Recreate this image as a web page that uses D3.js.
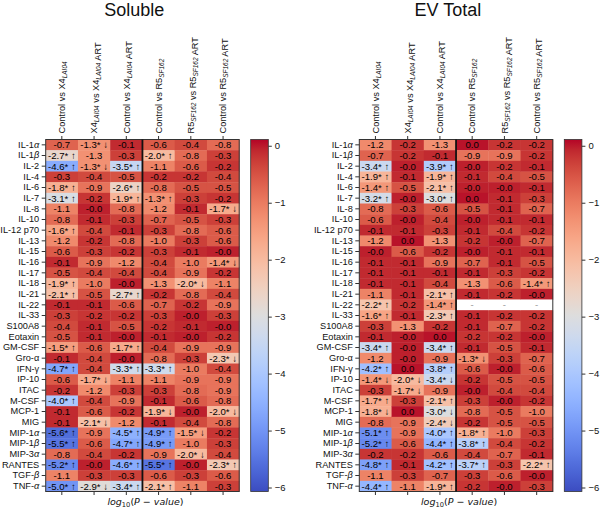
<!DOCTYPE html>
<html>
<head>
<meta charset="utf-8">
<script src="https://cdn.jsdelivr.net/npm/d3@7"></script>
<style>
  body { margin: 0; background: #fff; }
  svg { display: block; font-family: "Liberation Sans", Arial, sans-serif; }
</style>
</head>
<body>
<svg id="chart" width="600" height="508"></svg>
<script>
// rows / columns
const rows = ['IL-1α', 'IL-1β', 'IL-2', 'IL-4', 'IL-6', 'IL-7', 'IL-8', 'IL-10', 'IL-12 p70', 'IL-13',
  'IL-15', 'IL-16', 'IL-17', 'IL-18', 'IL-21', 'IL-22', 'IL-33', 'S100A8', 'Eotaxin', 'GM-CSF',
  'Gro-α', 'IFN-γ', 'IP-10', 'ITAC', 'M-CSF', 'MCP-1', 'MIG', 'MIP-1α', 'MIP-1β', 'MIP-3α',
  'RANTES', 'TGF-β', 'TNF-α'];
const uprightGreek = ['Gro-α', 'IFN-γ'];
const comparisons = ['Control vs X4{LAI04}', 'X4{LAI04} vs X4{LAI04} ART', 'Control vs X4{LAI04} ART',
  'Control vs R5{SF162}', 'R5{SF162} vs R5{SF162} ART', 'Control vs R5{SF162} ART'];
const colorbarTicks = [0, -1, -2, -3, -4, -5, -6];

// log10(p) values, one array per comparison (-0.04 shows as "-0.0", 0.03 as "0.0")
const solCtrlX4 = [-0.7, -2.7, -4.6, -0.3, -1.8, -3.1, -1.1, -0.8, -1.6, -1.2, -0.6, -0.1, -0.5, -1.9, -2.1, -0.1, -0.3, -0.4, -0.5, -1.5, -0.1, -4.7, -0.6, -0.2, -4.0, -0.1, -0.1, -5.6, -5.5, -0.8, -5.2, -1.1, -5.0];
const solX4X4Art = [-1.3, -1.3, -1.3, -0.4, -0.9, -0.2, -0.04, -0.1, -0.4, -0.2, -0.3, -0.9, -0.4, -1.0, -0.5, -0.1, -0.2, -0.1, -0.1, -0.6, -0.4, -0.4, -1.7, -1.2, -0.4, -0.6, -2.1, -0.9, -0.6, -0.4, -0.04, -0.3, -2.9];
const solCtrlX4Art = [-0.1, -0.3, -3.5, -0.5, -2.6, -1.9, -0.8, -0.3, -0.1, -0.8, -0.2, -1.2, -0.4, -0.04, -2.7, -0.6, -0.2, -0.5, -0.04, -1.7, -0.04, -3.3, -1.1, -0.3, -0.9, -0.2, -1.2, -4.5, -4.7, -0.2, -4.6, -0.3, -3.4];
const solCtrlR5 = [-0.6, -2.0, -1.1, -0.2, -0.8, -1.3, -1.2, -0.7, -0.3, -1.0, -0.3, -0.4, -0.4, -1.3, -0.2, -0.7, -0.3, -0.2, -0.1, -0.4, -0.8, -3.3, -1.1, -0.3, -0.1, -1.9, -0.1, -4.9, -4.9, -0.9, -5.5, -0.6, -2.1];
const solR5R5Art = [-0.4, -0.8, -0.6, -0.2, -0.5, -0.3, -0.1, -0.5, -0.8, -0.3, -0.1, -1.0, -0.9, -2.0, -0.8, -0.2, -0.04, -0.1, -0.04, -0.9, -0.3, -1.0, -0.9, -0.8, -0.6, -0.04, -0.4, -1.5, -1.0, -2.0, -0.04, -0.3, -1.1];
const solCtrlR5Art = [-0.8, -0.3, -0.2, -0.4, -0.5, -0.2, -1.7, -0.3, -0.6, -0.6, -0.04, -1.4, -0.2, -1.1, -0.4, -0.9, -0.3, -0.04, -0.2, -0.9, -2.3, -0.4, -0.9, -0.9, -0.8, -2.0, -0.8, -0.2, -0.3, -0.4, -2.3, -0.6, -0.3];

const evCtrlX4 = [-1.2, -0.7, -3.4, -1.9, -1.4, -3.2, -0.8, -0.6, -0.1, -1.2, -0.04, -0.1, -0.1, -0.1, -1.1, -2.2, -1.6, -0.3, -0.1, -3.4, -1.2, -4.2, -1.4, -0.3, -1.7, -1.8, -0.8, -5.1, -5.2, -0.2, -4.8, -1.1, -4.4];
const evX4X4Art = [-0.2, -0.2, -0.04, -0.1, -0.5, -0.04, -0.3, -0.04, -0.1, 0.03, -0.6, -0.1, -0.1, -0.1, -0.1, -0.2, -0.1, -1.3, -0.04, -0.04, -0.04, 0.03, -2.0, -1.7, -0.3, 0.03, -0.9, -0.9, -0.6, -0.2, -0.1, -0.3, -1.1];
const evCtrlX4Art = [-1.3, -0.1, -3.9, -1.9, -2.1, -3.0, -0.6, -0.4, -0.3, -1.3, -0.2, -0.9, -0.1, -0.4, -2.1, -1.4, -2.3, -0.2, 0.03, -3.4, -0.9, -3.8, -3.4, -0.9, -2.1, -3.0, -2.4, -4.0, -4.4, -0.6, -4.2, -0.7, -1.9];
const evCtrlR5 = [0.03, -0.9, -0.04, -0.1, -0.04, 0.03, -0.5, -0.04, -0.1, -0.2, -0.04, -0.7, -0.1, -1.3, -0.1, null, -0.1, -0.1, -0.2, -0.1, -1.3, -0.6, -0.2, -0.04, -0.3, -0.8, -0.2, -1.8, -3.8, -0.4, -3.7, -0.3, -0.2];
const evR5R5Art = [-0.2, -0.9, -0.2, -0.4, -0.04, -0.1, -0.1, -0.1, -0.4, -0.04, -0.1, -0.1, -0.3, -0.6, -0.2, null, -0.2, -0.7, -0.2, -0.5, -0.3, -0.04, -0.5, -0.4, -0.04, -0.5, -0.5, -1.0, -0.4, -0.7, -0.3, -0.6, -0.04];
const evCtrlR5Art = [-0.2, -0.2, -0.1, -0.5, -0.1, -0.3, -0.7, -0.1, -0.2, -0.7, -0.1, -0.5, -0.2, -1.4, -0.04, null, -0.2, -0.2, -0.04, -0.1, -0.7, -0.6, -0.5, -0.4, -0.2, -1.0, -0.5, -0.3, -0.2, -0.1, -2.2, -0.04, -0.3];

// significance, one char per row: u = "* ↑", d = "* ↓"
const solSig = [
  '.uu.uu..u' + '....uu....' + 'u.u..u..uu' + '.u.u',
  'd.d......' + '..........' + '...d...d..' + '...d',
  '..u.uu...' + '.....u....' + 'u.u.....uu' + '.u.u',
  '.u...u...' + '..........' + '..u...d.uu' + '.u.u',
  '.........' + '....d.....' + '........d.' + 'd...',
  '......d..' + '..d.......' + '.d....d...' + '.u..'
];
const evSig = [
  '..uuuu...' + '......uu..' + 'u.ud.ud.uu' + '.u.u',
  '.........' + '..........' + '...dd.....' + '....',
  '..uuuu...' + '.....uuu..' + 'u.ud.udduu' + '.u.u',
  '.........' + '..........' + '.d......uu' + '.u..',
  '.........' + '..........' + '..........' + '....',
  '.........' + '....u.....' + '..........' + '.u..'
];

// matplotlib coolwarm
const coolwarm = [[59,76,192],[68,90,204],[77,104,215],[87,117,225],[98,130,234],[108,142,241],[119,154,247],
  [130,165,251],[141,176,254],[152,185,255],[163,194,255],[174,201,253],[184,208,249],[194,213,244],
  [204,217,238],[213,219,230],[221,221,221],[229,216,209],[236,211,197],[241,204,185],[245,196,173],
  [247,187,160],[247,177,148],[247,166,135],[244,154,123],[241,141,111],[236,127,99],[229,112,88],
  [222,96,77],[213,80,66],[203,62,56],[192,40,47],[180,4,38]];

const vmin = -6.07, vmax = 0.11;
const cmap = d3.scaleLinear()
  .domain(coolwarm.map((_, i) => vmin + (vmax - vmin) * i / (coolwarm.length - 1)))
  .range(coolwarm.map(c => `rgb(${c.join(',')})`))
  .interpolate(d3.interpolateRgb)
  .clamp(true);

const heatTop = 139.5, heatH = 352, heatW = 193.5;
const fontFamily = '"Liberation Sans", Arial, sans-serif';
const svg = d3.select('#chart');

function drawPanel({ left, title, values, sigs, id }) {
  const g = svg.append('g');
  const x = d3.scaleBand().domain(comparisons).range([left, left + heatW]);
  const y = d3.scaleBand().domain(rows).range([heatTop, heatTop + heatH]);

  const cells = [];
  values.forEach((col, ci) => col.forEach((v, ri) => {
    cells.push({ c: comparisons[ci], r: rows[ri], v, s: sigs[ci][ri] });
  }));

  g.selectAll('rect.cell')
    .data(cells)
    .join('rect')
    .attr('class', 'cell')
    .attr('x', d => x(d.c))
    .attr('y', d => y(d.r))
    .attr('width', x.bandwidth() + 0.4)
    .attr('height', y.bandwidth() + 0.4)
    .attr('fill', d => (d.v == null ? '#fff' : cmap(d.v)));

  g.selectAll('text.cell-label')
    .data(cells)
    .join('text')
    .attr('class', 'cell-label')
    .attr('x', d => x(d.c) + x.bandwidth() / 2)
    .attr('y', d => y(d.r) + y.bandwidth() / 2)
    .attr('dy', '0.36em')
    .attr('text-anchor', 'middle')
    .attr('font-size', 9.6)
    .attr('fill', d => (d.v == null ? '#999' : '#000'))
    .text(d => {
      if (d.v == null) return '-';
      const mark = d.s === 'u' ? '* ↑' : d.s === 'd' ? '* ↓' : '';
      return d.v.toFixed(1) + mark;
    });

  // frame + separator between X4 and R5 groups
  g.append('rect')
    .attr('x', left).attr('y', heatTop)
    .attr('width', heatW).attr('height', heatH)
    .attr('fill', 'none').attr('stroke', '#333').attr('stroke-width', 1);
  g.append('line')
    .attr('x1', x(comparisons[3])).attr('x2', x(comparisons[3]))
    .attr('y1', heatTop).attr('y2', heatTop + heatH)
    .attr('stroke', '#111').attr('stroke-width', 1.8);

  // row labels
  const ay = g.append('g')
    .attr('transform', `translate(${left},0)`)
    .call(d3.axisLeft(y).tickSize(4).tickPadding(2.5));
  ay.select('.domain').remove();
  ay.attr('font-size', 9.2).attr('font-family', fontFamily).attr('color', '#333');
  ay.selectAll('text').attr('fill', '#111').each(function(d) {
    const m = d.match(/[αβγ]$/);
    if (m && !uprightGreek.includes(d)) {
      const t = d3.select(this).text(d.slice(0, -1));
      t.append('tspan').attr('font-style', 'italic').text(m[0]);
    }
  });

  // column labels (rotated, with subscripts)
  const ax = g.append('g')
    .attr('transform', `translate(0,${heatTop})`)
    .call(d3.axisTop(x).tickSize(3.5).tickPadding(2));
  ax.select('.domain').remove();
  ax.attr('font-size', 9.2).attr('font-family', fontFamily).attr('color', '#333');
  ax.selectAll('text').each(function(d) {
    const t = d3.select(this)
      .text(null)
      .attr('transform', 'rotate(-90)')
      .attr('x', 6).attr('y', 0)
      .attr('dy', '0.35em')
      .attr('text-anchor', 'start')
      .attr('fill', '#111');
    d.split(/(\{[^}]*\})/).filter(s => s).forEach(part => {
      if (part.startsWith('{')) {
        t.append('tspan').attr('font-size', 6.5).attr('font-style', 'italic')
          .attr('dy', 2).text(part.slice(1, -1));
        t.append('tspan').attr('dy', -2).text('');
      } else {
        t.append('tspan').text(part);
      }
    });
  });

  const axb = g.append('g')
    .attr('transform', `translate(0,${heatTop + heatH})`)
    .call(d3.axisBottom(x).tickSize(3.5).tickFormat(''));
  axb.select('.domain').remove();
  axb.attr('color', '#333');

  // title
  g.append('text')
    .attr('x', left + 88.5).attr('y', 16)
    .attr('text-anchor', 'middle')
    .attr('font-size', 18)
    .attr('fill', '#111')
    .text(title);

  // x label
  const xl = g.append('text')
    .attr('x', left + heatW / 2 + 3).attr('y', 505)
    .attr('text-anchor', 'middle')
    .attr('font-family', '"DejaVu Sans", sans-serif')
    .attr('font-size', 9.5)
    .attr('fill', '#111');
  xl.append('tspan').attr('font-style', 'italic').text('log');
  xl.append('tspan').attr('font-size', 6.7).attr('dy', 2).text('10');
  xl.append('tspan').attr('dy', -2).text('(');
  xl.append('tspan').attr('font-style', 'italic').text('P');
  xl.append('tspan').text(' − ');
  xl.append('tspan').attr('font-style', 'italic').text('value');
  xl.append('tspan').text(')');

  // colorbar
  const cbX = left + 205, cbW = 17.6;
  const cb = d3.scaleLinear().domain([vmin, vmax]).range([heatTop + heatH, heatTop]);
  const grad = svg.append('defs').append('linearGradient')
    .attr('id', id).attr('x1', 0).attr('x2', 0).attr('y1', 1).attr('y2', 0);
  grad.selectAll('stop')
    .data(d3.range(0, 1.0001, 1 / 64))
    .join('stop')
    .attr('offset', t => t)
    .attr('stop-color', t => cmap(vmin + (vmax - vmin) * t));
  g.append('rect')
    .attr('x', cbX).attr('y', heatTop)
    .attr('width', cbW).attr('height', heatH)
    .attr('fill', `url(#${id})`)
    .attr('stroke', '#333').attr('stroke-width', 0.8);
  const ac = g.append('g')
    .attr('transform', `translate(${cbX + cbW},0)`)
    .call(d3.axisRight(cb).tickValues(colorbarTicks).tickFormat(d3.format('d'))
      .tickSize(3.5).tickPadding(3));
  ac.select('.domain').remove();
  ac.attr('font-size', 9.5).attr('font-family', fontFamily).attr('color', '#333');
  ac.selectAll('text').attr('fill', '#111');
}

drawPanel({
  left: 45.7, title: 'Soluble', id: 'cb-sol',
  values: [solCtrlX4, solX4X4Art, solCtrlX4Art, solCtrlR5, solR5R5Art, solCtrlR5Art],
  sigs: solSig
});
drawPanel({
  left: 359.3, title: 'EV Total', id: 'cb-ev',
  values: [evCtrlX4, evX4X4Art, evCtrlX4Art, evCtrlR5, evR5R5Art, evCtrlR5Art],
  sigs: evSig
});
</script>
</body>
</html>
